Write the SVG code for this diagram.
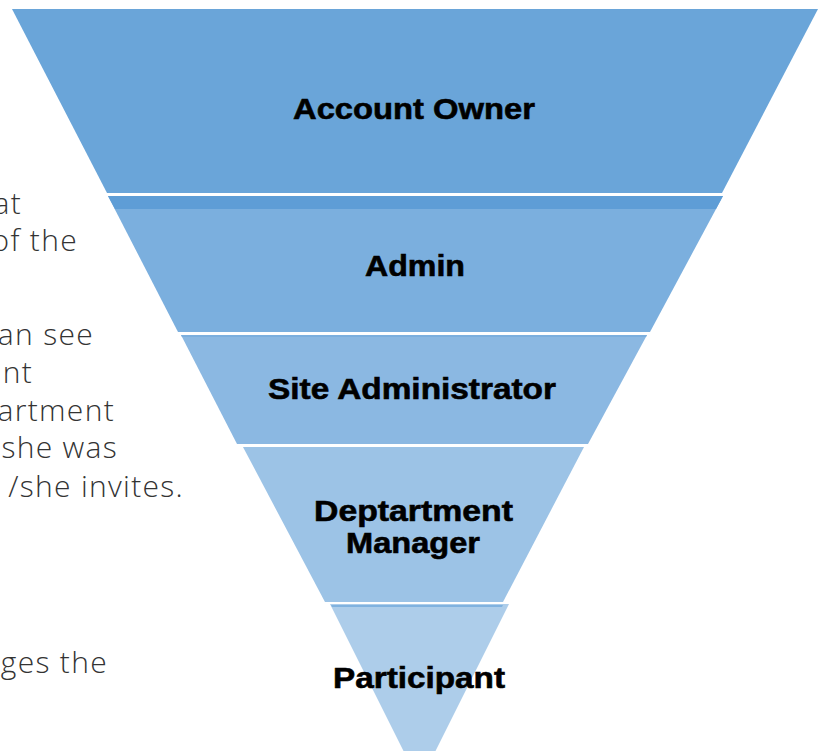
<svg xmlns="http://www.w3.org/2000/svg" width="820" height="751" viewBox="0 0 820 751">
<style>
.side{font-family:"Open Sans","Liberation Sans",sans-serif;font-weight:300;font-size:30px;letter-spacing:1.3px;fill:#333;text-anchor:end}
.lbl{font-family:"Liberation Sans",Arial,sans-serif;font-weight:bold;font-size:30px;fill:#000;stroke:#000;stroke-width:0.6px;text-anchor:middle}
</style>
<rect width="820" height="751" fill="#fff"/>
<g id="side-text">
<text class="side" x="22" y="214">at</text>
<text class="side" x="78" y="251">of the</text>
<text class="side" x="94" y="345">an see</text>
<text class="side" x="33" y="383">nt</text>
<text class="side" x="115" y="421">artment</text>
<text class="side" x="118" y="458">she was</text>
<text class="side" x="184" y="497">/she invites.</text>
<text class="side" x="108" y="673">ges the</text>
</g>
<g id="account-owner">
<polygon points="12,9 818,9 722,193 107,193" fill="#6AA5D9"/>
<text class="lbl" x="414" y="119" textLength="242" lengthAdjust="spacingAndGlyphs">Account Owner</text>
</g>
<g id="admin">
<polygon points="108,196 723,196 650,332 178,332" fill="#7BAFDE"/>
<polygon points="108,196 723,196 716,209 115,209" fill="#5E9DD6"/>
<text class="lbl" x="415" y="276" textLength="100" lengthAdjust="spacingAndGlyphs">Admin</text>
</g>
<g id="site-administrator">
<polygon points="181,335 647,335 588,444 237,444" fill="#8BB8E2"/>
<polygon points="181,335 647,335 646,337 182,337" fill="#7CAFDE"/>
<text class="lbl" x="412" y="399" textLength="288" lengthAdjust="spacingAndGlyphs">Site Administrator</text>
</g>
<g id="department-manager">
<polygon points="243,447 584,447 503,602 325,602" fill="#9CC3E6"/>
<text class="lbl" x="413.5" y="521" textLength="199" lengthAdjust="spacingAndGlyphs">Deptartment</text>
<text class="lbl" x="413" y="553" textLength="134" lengthAdjust="spacingAndGlyphs">Manager</text>
</g>
<g id="participant">
<polygon points="330,604 509,604 419.5,783" fill="#ADCDEA"/>
<polygon points="331,605 503,605 502,607 332,607" fill="#80B2DF"/>
<text class="lbl" x="419" y="688" textLength="172" lengthAdjust="spacingAndGlyphs">Participant</text>
</g>
<g id="connectors"/>
</svg>
